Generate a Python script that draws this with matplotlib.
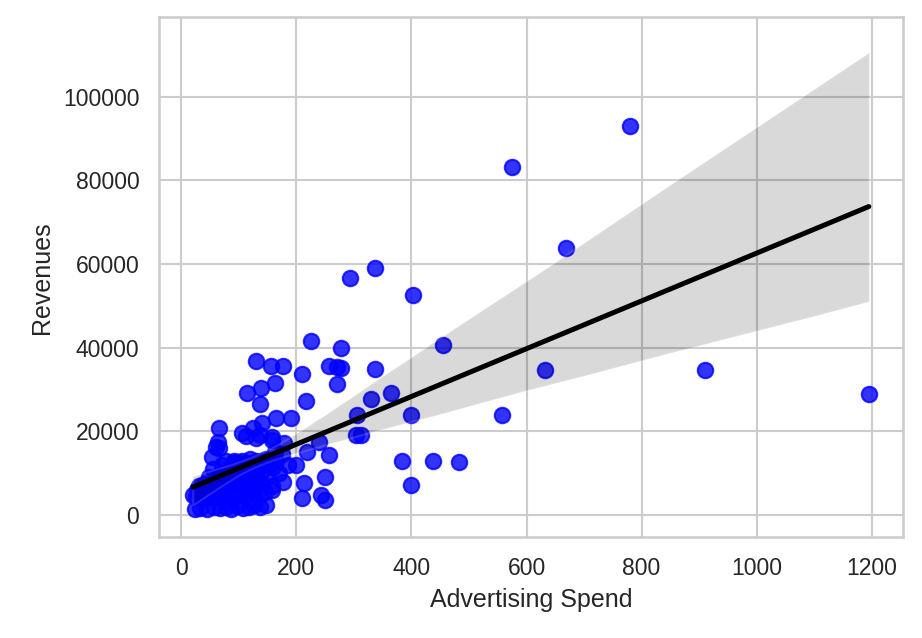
import matplotlib
matplotlib.use('Agg')
import matplotlib.pyplot as plt
import seaborn as sns
import pandas as pd

# advertising spend vs revenues
spend_outer = [780, 575, 668, 910, 1195, 632, 557, 293, 337, 403, 454, 400, 400,
               365, 383, 437, 482, 336, 330, 306, 313, 304, 278, 226, 210, 257,
               270, 278, 270, 216, 191, 240, 257, 219, 200, 249, 214, 210, 249,
               176, 243]
rev_outer = [93000, 83200, 63800, 34600, 29000, 34600, 23900, 56700, 59100, 52600,
             40700, 23900, 7200, 29200, 12900, 12900, 12700, 34900, 27700, 23900,
             19100, 19100, 40000, 41600, 33700, 35600, 35400, 35100, 31300, 27300,
             23200, 17500, 14400, 15100, 12000, 9100, 7700, 4100, 3600, 7900, 4800]

spend_mid = [130, 155, 177, 163, 139, 115, 137, 165, 141, 124, 106, 112, 136, 158,
             130, 66, 63, 66, 61, 54, 97, 92, 179, 158, 162, 157]
rev_mid = [36800, 35600, 35600, 31600, 30400, 29200, 26600, 23200, 22000, 20800,
           19600, 19000, 19100, 17900, 18400, 20800, 17500, 16000, 16300, 13900,
           12700, 12400, 17200, 18700, 15000, 6000]

# the dense cluster near the origin
spend_low = [20, 25, 28, 30, 32, 35, 38, 40, 42, 45, 48, 50, 52, 55, 55, 58, 60,
             60, 62, 65, 65, 68, 70, 70, 72, 75, 75, 78, 80, 80, 82, 85, 85, 88,
             90, 90, 92, 95, 95, 98, 100, 100, 102, 105, 105, 108, 110, 110, 112,
             115, 115, 118, 120, 120, 122, 125, 125, 128, 130, 130, 132, 135, 138,
             140, 140, 145, 145, 148, 150, 152, 155, 158, 24, 33, 44, 57, 67, 77,
             87, 97, 107, 117, 127, 137, 147, 160, 165, 170, 175, 185]
rev_low = [4700, 4300, 6000, 7000, 5000, 4100, 5500, 7500, 4500, 6300, 9000, 5300,
           4200, 6700, 11000, 5700, 8000, 4700, 4400, 9500, 6500, 5100, 12000, 5900,
           8700, 4500, 7300, 13000, 5500, 10000, 7700, 4800, 11300, 6500, 8500, 4400,
           12800, 6100, 10300, 7500, 5000, 11500, 6800, 9300, 13000, 5600, 10500, 8100,
           4700, 12500, 6500, 9500, 5500, 13500, 8300, 11000, 5000, 7000, 12300, 13000,
           9000, 6000, 12800, 10500, 7500, 13000, 5500, 13500, 9500, 12000, 13000, 7000,
           1400, 1700, 1500, 1900, 1600, 1800, 1500, 2100, 1700, 1900, 2300, 2000,
           2500, 11500, 13000, 10000, 14500, 12000]

df = pd.DataFrame({
    'Advertising Spend': spend_outer + spend_mid + spend_low,
    'Revenues': rev_outer + rev_mid + rev_low,
})

sns.set_theme(style='whitegrid')
plt.rcParams['font.family'] = ['Liberation Sans', 'DejaVu Sans']

fig = plt.figure(figsize=(922 / 150, 638 / 150), dpi=150)
ax = fig.add_axes([0.1725, 0.158, 0.8065, 0.815])
sns.regplot(data=df, x='Advertising Spend', y='Revenues', ax=ax, seed=2,
            scatter_kws={'color': 'blue', 's': 55},
            line_kws={'color': 'black', 'linewidth': 2.4})
ax.set_ylim(-5300, 119000)

fig.savefig('out.png', dpi=150)
plt.close(fig)
